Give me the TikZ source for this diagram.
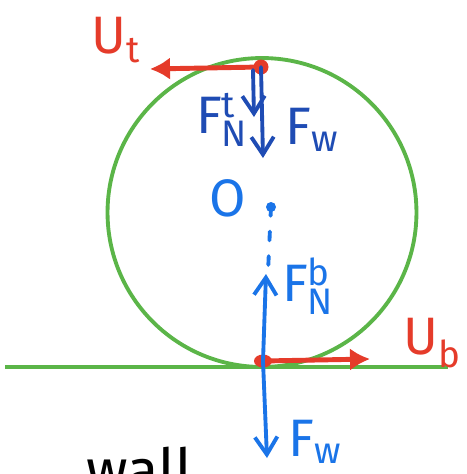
\documentclass[tikz,border=0pt]{standalone}
\usepackage{fontspec}
\setmainfont{Fira Sans}
\setsansfont{Fira Sans}
\usetikzlibrary{arrows.meta}
\definecolor{wheelgreen}{HTML}{5BB548}
\definecolor{velred}{HTML}{E53B2A}
\definecolor{forcedark}{HTML}{1F4CB4}
\definecolor{forcelight}{HTML}{1A74E8}

\begin{document}
\begin{tikzpicture}[x=0.02cm,y=-0.02cm,
  every node/.style={font=\fontsize{30}{32}\selectfont,inner sep=0pt},
  vel/.style={velred,line width=2.8pt,line cap=round,-{Latex[length=4mm,width=4.5mm]}},
  force/.style={line width=2.2pt,line cap=round,-{Straight Barb[length=3.5mm,width=4.5mm]}},
  dot/.style={fill=velred}]
\useasboundingbox (0,0) rectangle (467,474);
\clip (0,0) rectangle (467,474);
% wheel and ground
\coordinate (c) at (262,212.5);
\coordinate (gl) at (5,367); \coordinate (gr) at (448,367);
\draw[wheelgreen,line width=2.2pt] (c) circle (3.09cm);
\draw[wheelgreen,line width=2.2pt] (gl) -- (gr);
% points
\coordinate (top) at (261,67); \coordinate (topl) at (253,70);
\coordinate (bot) at (263,361);
\coordinate (O) at (271,207);
\coordinate (ut) at (150,69); \coordinate (ub) at (370,359);
\coordinate (fnt) at (254,117); \coordinate (fwt) at (263,158);
\coordinate (fnb) at (266,274); \coordinate (fwb) at (267,458);
\coordinate (dsh) at (268,272);
% velocities
\fill[velred] (top) circle (7.5);
\fill[velred] (bot) ellipse (9 and 6.5);
\draw[vel] (top) -- (ut);
\draw[vel] (bot) -- (ub);
\node[velred] (Ut) at (116,40) {U$_{\mathsf{t}}$};
\node[velred] (Ub) at (432,343) {U$_{\mathsf{b}}$};
% forces at top
\draw[force,forcedark] (topl) -- (fnt);
\draw[force,forcedark] (top) -- (fwt);
\node[forcedark] (FNt) at (222,120) {$\mathsf{F}^{\mathsf{t}}_{\mathsf{N}}$};
\node[forcedark] (Fwt) at (312,130) {$\mathsf{F}_{\mathsf{w}}$};
% centre
\fill[forcelight] (O) circle (5);
\node[forcelight] (Olab) at (228,198) {O};
\draw[forcelight,line width=2.2pt,line cap=round,dash pattern=on 5pt off 9pt] (O) -- (dsh);
% forces at bottom
\draw[force,forcelight] (bot) -- (fnb);
\draw[force,forcelight] (bot) -- (fwb);
\node[forcelight] (FNb) at (308,286) {$\mathsf{F}^{\mathsf{b}}_{\mathsf{N}}$};
\node[forcelight] (Fwb) at (315,442) {$\mathsf{F}_{\mathsf{w}}$};
% cut-off word
\node[anchor=north west,font=\fontsize{33}{35}\selectfont] (wall) at (86,447) {wall};
\end{tikzpicture}
\end{document}
